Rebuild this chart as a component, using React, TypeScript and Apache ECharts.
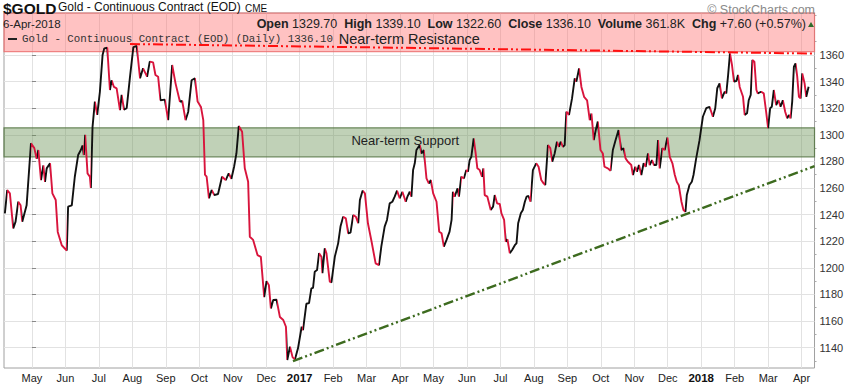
import React, { useEffect, useRef } from "react";
import * as echarts from "echarts";

// x unit: months since 1-May-2016 (trading-day scale of the original chart)
const monthLabels = [
  "May", "Jun", "Jul", "Aug", "Sep", "Oct", "Nov", "Dec",
  "2017", "Feb", "Mar", "Apr", "May", "Jun", "Jul", "Aug", "Sep", "Oct", "Nov", "Dec",
  "2018", "Feb", "Mar", "Apr",
];
const monthTicks = monthLabels.map((_, i) => i);
const priceTicks = [1140, 1160, 1180, 1200, 1220, 1240, 1260, 1280, 1300, 1320, 1340, 1360];
const minorPriceTicks = [1130, 1150, 1170, 1190, 1210, 1230, 1250, 1270, 1290, 1310, 1330, 1350, 1370, 1390];

const X_MIN = -0.836;
const X_MAX = 23.387;
const Y_MIN = 1124.7;
const Y_MAX = 1391.6;

const months = [
  -0.81, -0.74, -0.66, -0.56, -0.49, -0.41, -0.34, -0.29, -0.16, -0.03,
  0.07, 0.14, 0.19, 0.27, 0.34, 0.39, 0.44, 0.54, 0.61, 0.71, 0.77, 0.89,
  1.04, 1.08, 1.19, 1.28, 1.38, 1.46, 1.51, 1.55, 1.59, 1.66, 1.73, 1.76, 1.81, 1.88, 1.95,
  2.03, 2.11, 2.16, 2.25, 2.33, 2.38, 2.45, 2.53, 2.63, 2.68, 2.75, 2.83, 2.93,
  3.03, 3.13, 3.23, 3.32, 3.44, 3.52, 3.62, 3.69, 3.77, 3.84, 3.97,
  4.07, 4.19, 4.29, 4.42, 4.49, 4.59, 4.67, 4.77, 4.87, 4.95,
  5.05, 5.12, 5.17, 5.22, 5.29, 5.37, 5.45, 5.56, 5.68, 5.79, 5.88, 5.96,
  6.04, 6.11, 6.18, 6.28, 6.36, 6.46, 6.51, 6.61, 6.74, 6.84, 6.94,
  7.01, 7.08, 7.14, 7.21, 7.31, 7.41, 7.51, 7.59, 7.63, 7.71, 7.79, 7.86, 7.95,
  8.06, 8.10, 8.20, 8.28, 8.35, 8.40, 8.45, 8.52, 8.58, 8.65, 8.68, 8.75, 8.80, 8.90, 8.95,
  9.05, 9.15, 9.22, 9.30, 9.38, 9.45, 9.52, 9.60, 9.68, 9.75, 9.80, 9.88, 9.95,
  10.04, 10.15, 10.27, 10.37, 10.44, 10.54, 10.61, 10.69, 10.77, 10.84, 10.91, 10.99,
  11.07, 11.17, 11.22, 11.29, 11.34, 11.39, 11.44, 11.49, 11.59, 11.64, 11.71, 11.79, 11.86, 11.92, 11.99,
  12.09, 12.17, 12.24, 12.31, 12.39, 12.48, 12.54, 12.58, 12.63, 12.72, 12.76, 12.83, 12.91, 12.98,
  13.03, 13.08, 13.13, 13.20, 13.26, 13.31, 13.38, 13.45, 13.49, 13.53, 13.61, 13.71, 13.78, 13.83, 13.90, 13.98,
  14.03, 14.11, 14.16, 14.21, 14.28, 14.35, 14.43, 14.48, 14.53, 14.61, 14.67, 14.73, 14.78, 14.84, 14.90, 14.97,
  15.07, 15.14, 15.22, 15.29, 15.34, 15.42, 15.49, 15.55, 15.62, 15.69, 15.75, 15.80, 15.87, 15.92, 15.97,
  16.05, 16.14, 16.22, 16.27, 16.35, 16.42, 16.50, 16.59, 16.67, 16.72, 16.79, 16.85, 16.91, 16.99,
  17.06, 17.11, 17.21, 17.29, 17.36, 17.44, 17.53, 17.61, 17.68, 17.74, 17.81, 17.91, 17.96,
  18.03, 18.08, 18.14, 18.21, 18.28, 18.34, 18.41, 18.46, 18.53, 18.59, 18.66, 18.71, 18.76, 18.84, 18.91, 18.99,
  19.06, 19.14, 19.21, 19.27, 19.33, 19.41, 19.47, 19.53, 19.57, 19.65, 19.72, 19.77, 19.85, 19.95,
  20.05, 20.15, 20.25, 20.35, 20.42, 20.48, 20.55, 20.62, 20.70, 20.75, 20.80, 20.86, 20.92, 20.98,
  21.05, 21.10, 21.15, 21.25, 21.30, 21.37, 21.42, 21.48, 21.53, 21.59, 21.65, 21.69, 21.79, 21.87, 21.94,
  22.00, 22.06, 22.11, 22.17, 22.24, 22.31, 22.37, 22.44, 22.51, 22.57, 22.63, 22.67, 22.72, 22.77, 22.82, 22.87, 22.92, 22.97,
  23.02, 23.09, 23.14, 23.21,
];

const closes = [
  1241, 1258.5, 1256, 1229.7, 1234.7, 1249.7, 1247, 1234.7, 1247, 1293.6,
  1290, 1282, 1288.6, 1266, 1277, 1264.7, 1274.8, 1278.6, 1256, 1251, 1227, 1217,
  1213, 1246, 1247, 1268.5, 1284.8, 1288.6, 1292, 1284.8, 1300, 1271, 1268.5, 1260, 1306, 1325, 1315,
  1332.4, 1360, 1365, 1365.5, 1333.7, 1341, 1336, 1335, 1318.6, 1330, 1319, 1320, 1343.7,
  1366, 1366.8, 1342.5, 1350, 1343.7, 1355, 1354.5, 1345, 1343.7, 1326, 1326.5,
  1311, 1352.5, 1338.7, 1325, 1325.5, 1311, 1317.4, 1341, 1342.5, 1325,
  1321, 1311, 1270, 1268.5, 1252.3, 1258.5, 1254.7, 1255.5, 1268.5, 1266, 1271, 1267,
  1276, 1286, 1306.6, 1302.3, 1274.8, 1264.7, 1223.4, 1221, 1209.6, 1208.3, 1178,
  1190, 1187, 1169.5, 1175.8, 1176, 1163, 1160.8, 1155.7, 1130.7, 1140.7, 1132.7, 1131.2, 1139.5,
  1155.7, 1153.2, 1173, 1173.5, 1184.6, 1185, 1197, 1198.3, 1211, 1208.3, 1196, 1214.7, 1211, 1189.6, 1189,
  1208.3, 1218.4, 1231, 1238.4, 1237.2, 1226, 1226.5, 1239.7, 1238.4, 1233.5, 1251, 1258, 1256,
  1233.5, 1219.6, 1203.4, 1202, 1216, 1231, 1236, 1248.5, 1249.7, 1253.5, 1258, 1252.3,
  1257.2, 1249.7, 1253.5, 1257.2, 1253.5, 1273.5, 1278.6, 1288.6, 1292.3, 1286, 1288.6, 1267.3, 1263.5, 1266, 1256,
  1249.7, 1227.2, 1226, 1216, 1221, 1227.2, 1236, 1257.2, 1253.5, 1259.8, 1253.5, 1268.5, 1267.3, 1273.5,
  1272.3, 1281, 1283.5, 1297.4, 1286, 1274.8, 1273.5, 1268.5, 1274.8, 1254.7, 1253.5, 1243.5, 1246, 1254.7, 1248.5, 1248,
  1241, 1236, 1219.6, 1221.4, 1211, 1213.4, 1217, 1218.4, 1233.5, 1241, 1243.5, 1249.7, 1253.5, 1254, 1249.7, 1273.5,
  1278.6, 1276, 1266, 1263.5, 1262.3, 1292.3, 1290, 1279.8, 1286, 1294.8, 1291, 1294.8, 1291, 1292.3, 1317.4,
  1315, 1327.4, 1342.5, 1340, 1350, 1336, 1328.6, 1326, 1311, 1316, 1296, 1303.6, 1310, 1288.6,
  1286, 1276, 1274.8, 1273, 1288.6, 1296, 1303.6, 1288.6, 1290, 1282.3, 1279.8, 1277.3, 1269.8,
  1276, 1272.3, 1277.3, 1269.8, 1278.6, 1276, 1286, 1277.3, 1281, 1277.3, 1277.3, 1296, 1274.8, 1290, 1288.6, 1298,
  1283.5, 1278.6, 1270, 1264.7, 1262, 1249.7, 1243.5, 1242.2, 1254.7, 1262.3, 1264.7, 1269.8, 1282.3, 1296,
  1313.6, 1320, 1321.1, 1313.6, 1320, 1335, 1338.7, 1327.4, 1332.4, 1331.2, 1343.7, 1361.3, 1352.5, 1340,
  1340.5, 1345, 1336, 1328.6, 1315, 1316.2, 1326, 1330, 1356.2, 1355, 1333.7, 1331.2, 1332.4, 1331.2, 1317.4,
  1305, 1320, 1321.1, 1333.7, 1322.4, 1326, 1321.1, 1326, 1317.4, 1312.4, 1315, 1312.4, 1325, 1351.2, 1353.7, 1343.7, 1328.6, 1327.4,
  1346.2, 1338.7, 1328.6, 1336.1,
];

const supportZone = [1283.5, 1305.3];
const resistanceZone = [1362.5, Y_MAX];
const resistanceLine = [[2.93, 1368.3], [23.387, 1361.1]];
const supportTrendLine = [[7.8, 1129.9], [23.387, 1276.5]];

const UP = "#111111";
const DOWN = "#d8143c";
const FONT = "'Liberation Sans', Arial, sans-serif";

export default function App() {
  const ref = useRef<HTMLDivElement>(null);

  useEffect(() => {
    if (!ref.current) return;
    const chart = echarts.init(ref.current, undefined, { renderer: "svg" });

    const points = months.map((m, i) => [m, closes[i]]);
    const pieces: any[] = [];
    for (let i = 0; i < months.length - 1; i++) {
      const piece: any = { gte: months[i], color: closes[i + 1] >= closes[i] ? UP : DOWN };
      if (i === months.length - 2) piece.lte = months[i + 1];
      else piece.lt = months[i + 1];
      pieces.push(piece);
    }

    const dash = [10, 3, 2, 3, 2, 3];
    const Z = 100;

    chart.setOption({
      animation: false,
      grid: {
        left: 4,
        right: 32,
        top: 13,
        bottom: 17,
        show: true,
        borderColor: "#a0a0a0",
        borderWidth: 1,
        backgroundColor: "#ffffff",
      },
      visualMap: {
        show: false,
        type: "piecewise",
        seriesIndex: 0,
        dimension: 0,
        pieces,
        outOfRange: { color: UP },
      },
      xAxis: {
        type: "value",
        min: X_MIN,
        max: X_MAX,
        axisLine: { show: false },
        axisTick: { show: false, customValues: monthTicks },
        axisLabel: {
          customValues: monthTicks,
          color: "#222",
          fontSize: 11,
          fontFamily: FONT,
          margin: 4,
          formatter: (v: number) => {
            const s = monthLabels[Math.round(v)] ?? "";
            return /^\d{4}$/.test(s) ? `{y|${s}}` : s;
          },
          rich: {
            y: { fontWeight: "bold", fontSize: 11.5, color: "#111", fontFamily: FONT },
          },
        },
        splitLine: { show: true, lineStyle: { color: "#e2e2e2", width: 1 } },
      },
      yAxis: [
        {
          type: "value",
          position: "right",
          min: Y_MIN,
          max: Y_MAX,
          axisLine: { show: false },
          axisTick: { show: true, customValues: priceTicks, length: 4, lineStyle: { color: "#888" } },
          axisLabel: {
            customValues: priceTicks,
            color: "#333",
            fontSize: 11,
            fontFamily: FONT,
            margin: 5,
            formatter: (v: number) => String(Math.round(v)),
          },
          splitLine: { show: true, lineStyle: { color: "#e2e2e2", width: 1 } },
        },
        {
          type: "value",
          position: "right",
          min: Y_MIN,
          max: Y_MAX,
          axisLine: { show: false },
          axisTick: { show: true, customValues: minorPriceTicks, length: 2, lineStyle: { color: "#aaa" } },
          axisLabel: { show: false },
          splitLine: { show: false },
        },
      ],
      series: [
        {
          type: "line",
          data: points,
          symbol: "none",
          showSymbol: false,
          lineStyle: { width: 1.9 },
          z: 2,
          silent: true,
        },
        {
          type: "line",
          data: [],
          z: 3,
          silent: true,
          markArea: {
            silent: true,
            data: [
              [
                {
                  yAxis: supportZone[0],
                  itemStyle: {
                    color: "rgba(104,146,84,0.42)",
                    borderColor: "rgba(88,120,70,0.85)",
                    borderWidth: 1.2,
                  },
                  label: {
                    show: true,
                    position: "inside",
                    formatter: "Near-term Support",
                    color: "#222",
                    fontSize: 13,
                    fontFamily: FONT,
                    offset: [-4, -2],
                  },
                },
                { yAxis: supportZone[1] },
              ],
              [
                {
                  yAxis: resistanceZone[0],
                  itemStyle: {
                    color: "rgba(255,110,110,0.42)",
                    borderColor: "rgba(235,110,110,0.8)",
                    borderWidth: 1.2,
                  },
                  label: {
                    show: true,
                    position: "inside",
                    formatter: "Near-term Resistance",
                    color: "#222",
                    fontSize: 14.5,
                    fontFamily: FONT,
                    offset: [0, 7],
                  },
                },
                { yAxis: resistanceZone[1] },
              ],
            ],
          },
          markLine: {
            silent: true,
            symbol: ["none", "none"],
            label: { show: false },
            data: [
              [
                {
                  coord: resistanceLine[0],
                  lineStyle: { color: "#ff1010", width: 2, type: dash },
                },
                { coord: resistanceLine[1] },
              ],
              [
                {
                  coord: supportTrendLine[0],
                  lineStyle: { color: "#3d6b1f", width: 2.4, type: dash },
                },
                { coord: supportTrendLine[1] },
              ],
            ],
          },
        },
      ],
      graphic: [
        {
          type: "text",
          left: 3,
          top: 0,
          z: Z,
          style: { text: "$GOLD", font: `bold 15.5px ${FONT}`, fill: "#111" },
        },
        {
          type: "text",
          left: 58,
          top: 1,
          z: Z,
          style: { text: "Gold - Continuous Contract (EOD)", font: `12px ${FONT}`, fill: "#111" },
        },
        {
          type: "text",
          left: 245,
          top: 3,
          z: Z,
          style: { text: "CME", font: `10px ${FONT}`, fill: "#111" },
        },
        {
          type: "text",
          right: 32,
          top: 3,
          z: Z,
          style: { text: "© StockCharts.com", font: `12.5px ${FONT}`, fill: "#8a8a8a" },
        },
        {
          type: "text",
          x: 3,
          y: 24,
          z: Z,
          style: {
            text: "6-Apr-2018",
            font: `11.5px ${FONT}`,
            fill: "#222",
            verticalAlign: "middle",
          },
        },
        {
          type: "text",
          x: 806,
          y: 24,
          z: Z,
          style: {
            text:
              "{b|Open} 1329.70  {b|High} 1339.10  {b|Low} 1322.60  {b|Close} 1336.10  {b|Volume} 361.8K  {b|Chg} +7.60 (+0.57%)",
            font: `12.5px ${FONT}`,
            fill: "#222",
            align: "right",
            verticalAlign: "middle",
            rich: {
              b: { font: `bold 12.5px ${FONT}`, fill: "#222" },
            },
          },
        },
        {
          type: "polygon",
          z: Z,
          shape: { points: [[808, 27], [814, 27], [811, 22]] },
          style: { fill: "#2f6b2a" },
        },
        {
          type: "line",
          z: Z,
          shape: { x1: 8, y1: 39, x2: 17, y2: 39 },
          style: { stroke: "#222", lineWidth: 2 },
        },
        {
          type: "text",
          x: 22,
          y: 39,
          z: Z,
          style: {
            text: "Gold - Continuous Contract (EOD) (Daily) 1336.10",
            font: `10.8px 'Liberation Mono', 'DejaVu Sans Mono', monospace`,
            fill: "#333",
            verticalAlign: "middle",
          },
        },
      ],
    });

    return () => chart.dispose();
  }, []);

  return (
    <div
      ref={ref}
      style={{ position: "fixed", left: 0, top: 0, width: 847, height: 385, background: "#fff" }}
    />
  );
}
